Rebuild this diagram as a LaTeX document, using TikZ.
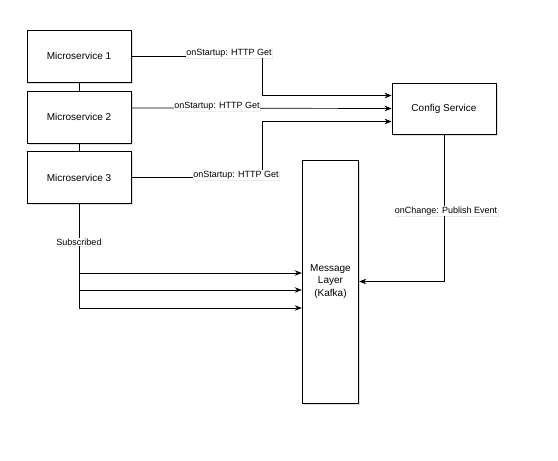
\documentclass[tikz,border=0pt]{standalone}
\usepackage{fontspec}
\setmainfont{Liberation Sans}
\usetikzlibrary{arrows.meta,shadows}

\begin{document}
\begin{tikzpicture}[x=1pt, y=-1pt,
    box/.style={draw, line width=0.8pt, fill=white, minimum width=104pt, minimum height=52pt,
        font=\fontsize{10}{12.5}\selectfont, drop shadow={opacity=0.25, shadow xshift=1.5pt, shadow yshift=-1.5pt}},
    lbl/.style={fill=white, inner sep=0.6pt, font=\fontsize{9}{11}\selectfont,
        drop shadow={opacity=0.15, shadow xshift=1pt, shadow yshift=-1pt}},
    arr/.style={line width=0.7pt, -{Stealth[length=7pt, width=5.5pt]}},
    ln/.style={line width=0.7pt}]
    % FULL
    \useasboundingbox[fill=white] (0,0) rectangle (558,461);

    % CAIXES
    \node[box] (ms1) at (79,56) {Microservice 1};
    \node[box] (ms2) at (79,117) {Microservice 2};
    \node[box] (ms3) at (79,177.5) {Microservice 3};
    \node[box, minimum height=51pt] (config) at (444,108.5) {Config Service};
    \node[box, minimum width=53pt, minimum height=243pt, text width=50pt, align=center] (kafka) at (330.5,281.5) {Message\\Layer\\(Kafka)};

    % UNIONS ENTRE MICROSERVEIS
    \draw[ln] (ms1.south) -- (ms2.north);
    \draw[ln] (ms2.south) -- (ms3.north);

    % PETICIONS A L'ARRENCADA
    \draw[arr] (ms1.east) -- (262,56) |- ([yshift=13pt]config.west);
    \draw[arr] ([yshift=9pt]ms2.east) -- (config.west);
    \draw[arr] ([yshift=0.5pt]ms3.east) -- (262,177) |- ([yshift=-13pt]config.west);
    \node[lbl] (l1) at (229,53) {onStartup: HTTP Get};
    \node[lbl] (l2) at (217,106) {onStartup: HTTP Get};
    \node[lbl] (l3) at (236,175) {onStartup: HTTP Get};

    % PUBLICACIO DELS CANVIS
    \draw[arr] (config.south) |- (kafka.east);
    \node[lbl] (l4) at (446,211) {onChange: Publish Event};

    % SUBSCRIPCIONS
    \coordinate (s1) at (79,273);
    \coordinate (s2) at (79,290);
    \draw[arr] (ms3.south) |- ([yshift=-26.5pt]kafka.west);
    \draw[arr] (s1) -- (kafka.west |- s1);
    \draw[arr] (s2) -- (kafka.west |- s2);
    \node[lbl] (l5) at (79,242) {Subscribed};
\end{tikzpicture}
\end{document}
